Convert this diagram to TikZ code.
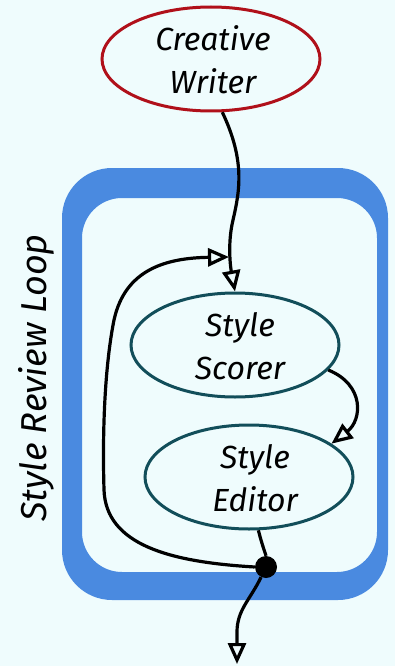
\documentclass[tikz,border=0pt]{standalone}
\usepackage{fontspec}
\setmainfont{Fira Sans}
\usetikzlibrary{shapes.geometric,arrows.meta}
\definecolor{bgc}{RGB}{239,252,253}
\definecolor{loopblue}{RGB}{74,138,224}
\definecolor{writerred}{RGB}{176,16,26}
\definecolor{agentteal}{RGB}{18,78,90}
\tikzset{
  agent/.style={ellipse, draw=agentteal, line width=3pt, inner sep=0pt},
  writerbox/.style={ellipse, draw=writerred, line width=3pt, inner sep=0pt},
  lbl/.style={font=\fontsize{32}{43}\selectfont\itshape, align=center, inner sep=0pt},
  flow/.style={line width=3.2pt, -{Triangle[open,length=21pt,width=18pt]}},
  plain/.style={line width=3.2pt},
}
\begin{document}
\begin{tikzpicture}[x=1pt,y=-1pt]
\fill[bgc] (0,0) rectangle (395,666);
\useasboundingbox (0,0) rectangle (395,666);
% loop frame
\fill[loopblue, even odd rule]
  [rounded corners=50pt] (62,168) rectangle (388,600)
  [rounded corners=40pt] (82,198) rectangle (377,572);
\node[lbl, font=\fontsize{36}{43}\selectfont\itshape, rotate=90] (looplbl) at (36,378) {Style Review Loop};
% nodes
\node[writerbox, minimum width=218pt, minimum height=104pt] (writer) at (211,59) {};
\node[lbl] (writertxt) at (213,60) {Creative\\Writer};
\node[agent, minimum width=208pt, minimum height=104pt] (scorer) at (235,345) {};
\node[lbl] (scorertxt) at (240,346) {Style\\Scorer};
\node[agent, minimum width=208pt, minimum height=104pt] (editor) at (249,477) {};
\node[lbl] (editortxt) at (255,478) {Style\\Editor};
\node[circle, fill=black, inner sep=0pt, minimum size=22pt] (dot) at (266,567) {};
\coordinate (merge) at (229,257);
\coordinate (out) at (237,664);
% connectors
\draw[flow] (writer.-78) .. controls (245,160) and (240,190) .. (233,220)
  .. controls (227,245) and (231,270) .. (scorer.north);
\draw[flow] (scorer.-15) .. controls (365,385) and (362,420) .. (editor.22);
\draw[plain] (editor.-80) .. controls (262,545) and (266,555) .. (dot);
\draw[flow] (dot.west) .. controls (170,562) and (106,545) .. (104,490)
  .. controls (102,420) and (106,360) .. (114,320)
  .. controls (125,270) and (165,258) .. (merge);
\draw[flow] (dot) .. controls (250,600) and (237,610) .. (237,632) -- (out);
\end{tikzpicture}
\end{document}
